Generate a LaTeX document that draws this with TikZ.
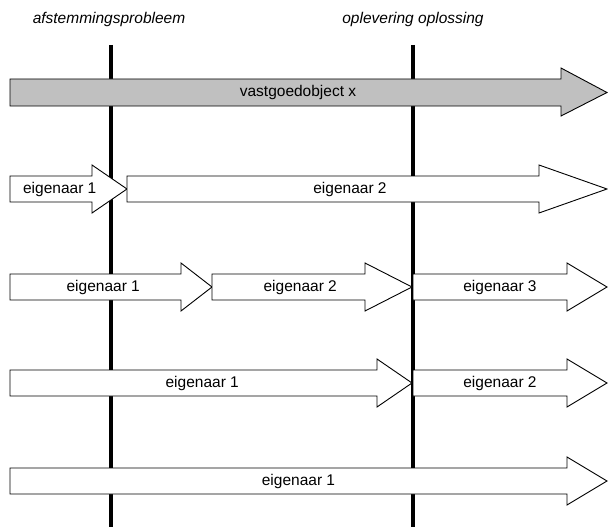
\documentclass[tikz,border=0pt]{standalone}
\usepackage{fontspec}
\setmainfont{Liberation Sans}
\definecolor{objgray}{HTML}{C0C0C0}
\tikzset{
  milestone/.style={line width=4pt, black},
  arrowbox/.style={draw=black, line width=0.9pt, line join=miter},
  lbl/.style={font=\fontsize{15.5}{17}\selectfont, inner sep=0pt},
  heading/.style={font=\fontsize{15.5}{17}\selectfont\itshape, inner sep=0pt},
}
% block arrow: [fill] name, x start, head base, tip, centre y, text
\newcommand{\blockarrow}[7][white]{%
  \draw[arrowbox, fill=#1] (#3,#6-13) -- (#4,#6-13) -- (#4,#6-24) -- (#5,#6)
    -- (#4,#6+24) -- (#4,#6+13) -- (#3,#6+13) -- cycle;
  \node[lbl] (#2) at ({(#3+(#4+#5)/2)/2},#6) {#7};%
}
\begin{document}
\begin{tikzpicture}[x=1pt,y=-1pt]
  \useasboundingbox (0,0) rectangle (608,527);

  % milestones
  \node[heading] (hA) at (109,19) {afstemmingsprobleem};
  \node[heading] (hB) at (413,19) {oplevering oplossing};
  \coordinate (mA0) at (111,45);  \coordinate (mA1) at (111,527);
  \coordinate (mB0) at (413,45);  \coordinate (mB1) at (413,527);
  \draw[milestone] (mA0) -- (mA1);
  \draw[milestone] (mB0) -- (mB1);

  % object timeline
  \draw[arrowbox, fill=objgray] (10,79) -- (561,79) -- (561,68) -- (607,92.5)
    -- (561,116) -- (561,106) -- (10,106) -- cycle;
  \node[lbl] (obj) at (298,92.5) {vastgoedobject x};

  % scenario 1
  \blockarrow{s1a}{10}{92}{127}{189}{eigenaar 1}
  \blockarrow{s1b}{127}{539}{607}{189}{eigenaar 2}

  % scenario 2
  \blockarrow{s2a}{10}{181}{212}{287}{eigenaar 1}
  \blockarrow{s2b}{212}{365}{412}{287}{eigenaar 2}
  \blockarrow{s2c}{413}{567}{607}{287}{eigenaar 3}

  % scenario 3
  \blockarrow{s3a}{10}{377}{412}{383}{eigenaar 1}
  \blockarrow{s3b}{413}{567}{607}{383}{eigenaar 2}

  % scenario 4
  \blockarrow{s4a}{10}{567}{607}{481}{eigenaar 1}
\end{tikzpicture}
\end{document}
